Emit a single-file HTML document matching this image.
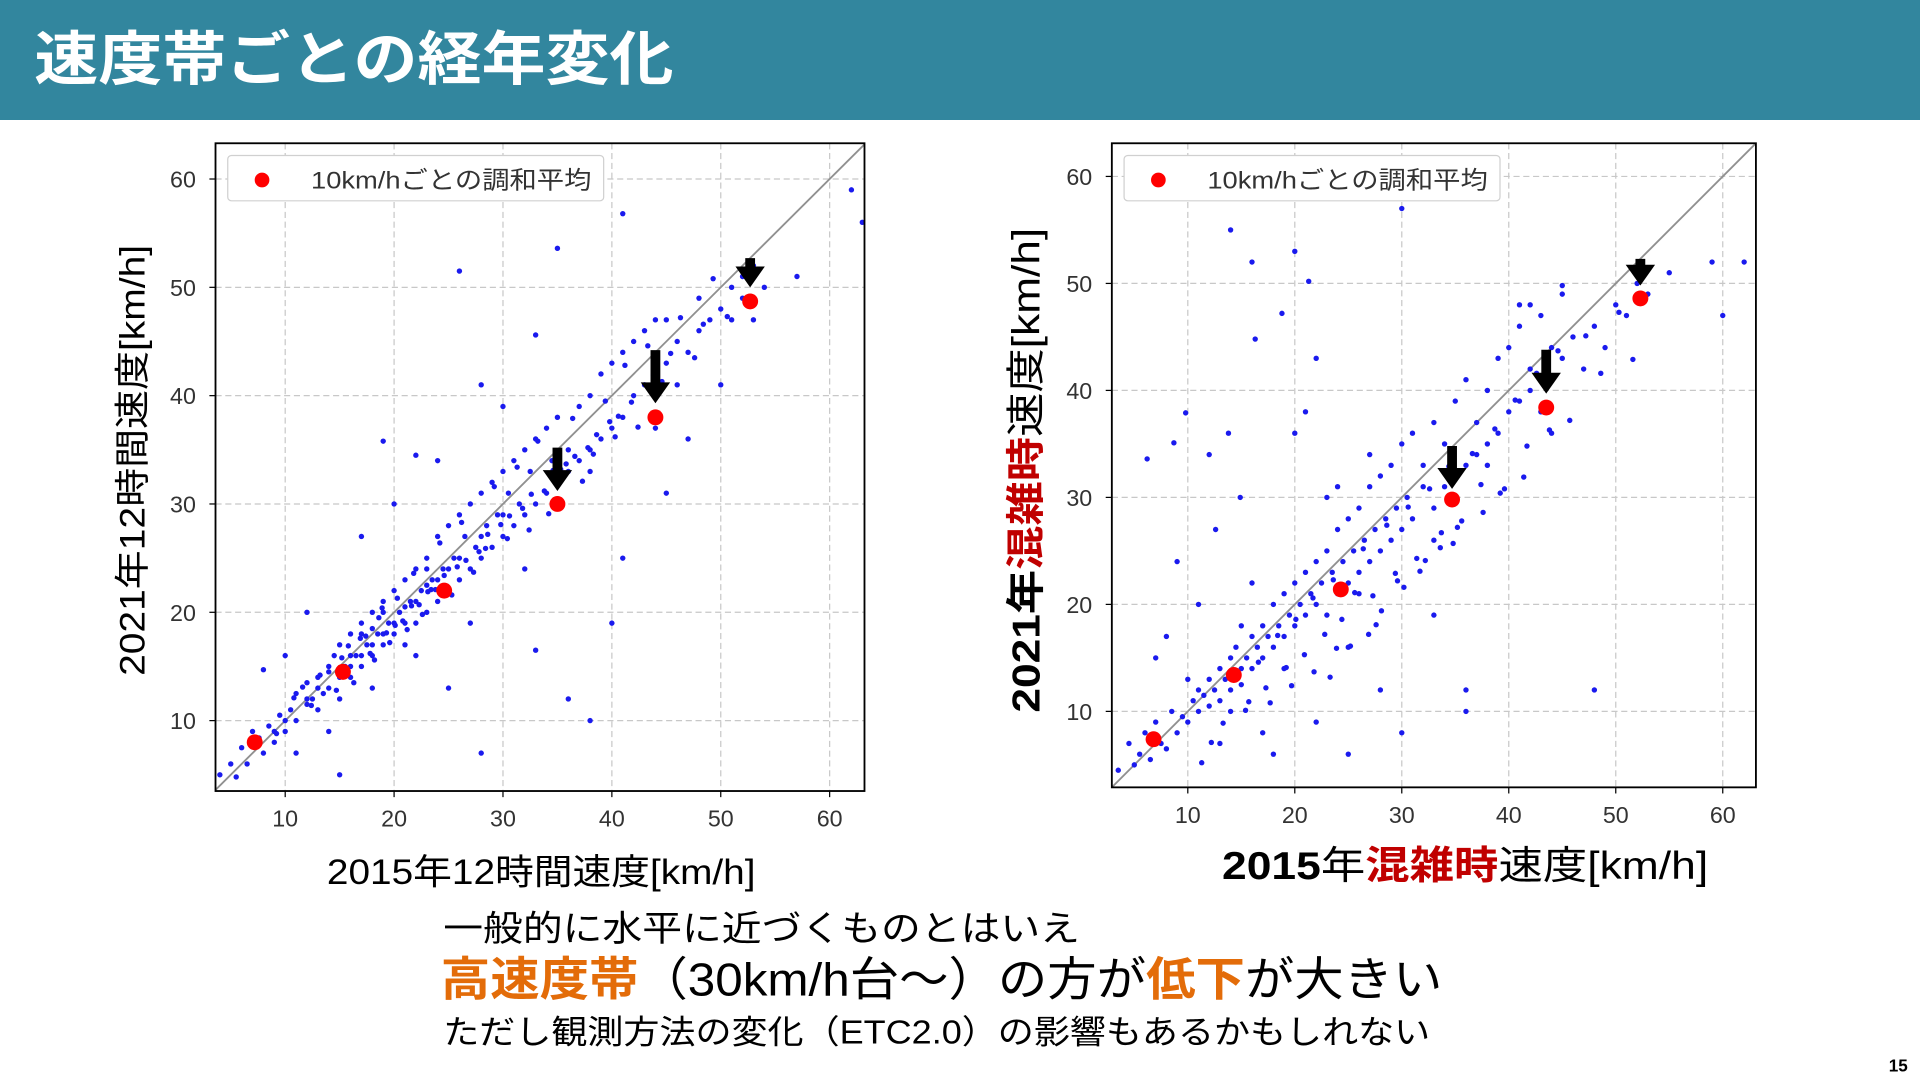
<!DOCTYPE html>
<html><head><meta charset="utf-8"><style>
html,body{margin:0;padding:0;background:#fff;}
svg{display:block;}
text{font-family:"Liberation Sans","Noto Sans CJK JP",sans-serif;}
</style></head><body>
<svg id="root" width="1920" height="1080" viewBox="0 0 1568 882" xmlns="http://www.w3.org/2000/svg">
<rect x="0" y="0" width="1568" height="98" fill="#32869e"/>
<text x="28" y="65" font-size="48" font-weight="bold" fill="#fff" textLength="522" lengthAdjust="spacingAndGlyphs">速度帯ごとの経年変化</text>
<g id="chartL"></g>
<g id="chartR"></g>
<text x="267" y="722" font-size="29" textLength="350" lengthAdjust="spacingAndGlyphs" fill="#000">2015年12時間速度[km/h]</text>
<text transform="translate(118,552) rotate(-90)" font-size="29" textLength="352" lengthAdjust="spacingAndGlyphs" fill="#000">2021年12時間速度[km/h]</text>
<text x="998" y="718" font-size="32" textLength="397" lengthAdjust="spacingAndGlyphs" fill="#000"><tspan font-weight="bold">2015</tspan>年<tspan font-weight="bold" fill="#c00000">混雑時</tspan>速度[km/h]</text>
<text transform="translate(849,582) rotate(-90)" font-size="32" textLength="396" lengthAdjust="spacingAndGlyphs" fill="#000"><tspan font-weight="bold">2021年</tspan><tspan font-weight="bold" fill="#c00000">混雑時</tspan>速度[km/h]</text>
<text x="362" y="768" font-size="29" textLength="520" lengthAdjust="spacingAndGlyphs" fill="#000">一般的に水平に近づくものとはいえ</text>
<text x="360" y="813" font-size="38" textLength="818" lengthAdjust="spacingAndGlyphs" fill="#000"><tspan font-weight="bold" fill="#e36c09">高速度帯</tspan>（30km/h台～）の方が<tspan font-weight="bold" fill="#e36c09">低下</tspan>が大きい</text>
<text x="362" y="852" font-size="27" textLength="806" lengthAdjust="spacingAndGlyphs" fill="#000">ただし観測方法の変化（ETC2.0）の影響もあるかもしれない</text>
<text x="1558" y="875" font-size="14" font-weight="bold" text-anchor="end" fill="#000">15</text>
</svg>
<script>
const NS="http://www.w3.org/2000/svg";
const tickValues=[10,20,30,40,50,60];
const legendLabel="10km/hごとの調和平均";
const leftX=[4,5,5.5,6,6.5,7,8,8.5,9,9.5,10,10.5,11,11,12,12,12.5,13,13,13.5,14,14,14.5,15,15,15.5,16,16,16.5,17,17,17.5,18,18,18.5,19,19,19.5,20,20,20.5,21,21,21.5,22,22,22.5,23,23,23.5,24,24,24.5,25,25,25.5,26,26,26.5,27,27,27.5,28,28,28.5,29,29,29.5,30,30,30.5,31,31,31.5,32,32,32.5,33,33,34,34,34.5,35,35,36,36,37,37,38,38,39,39,40,40,41,41,42,42,43,43,44,44,45,45,46,46,47,48,48,49,50,51,51,52,52,53,53,54,57,62,63,26,35,41,33,28,19,22,8,15,28,38,36,40,33,24,30,45,47,50,41,25,12,10,17,20,44,38,32,27,22,18,14,11,15,16,17,18,19,20,21,22,23,24,13,14,17,19,21,23,25,26,28,30,12,10,9,16,18,
13.2,14.7,15.8,16.3,17.4,18.2,18.9,19.6,20.3,21.2,21.8,22.6,23.4,24.2,25.3,26.2,27.3,28.4,29.2,30.4,31.3,32.4,33.2,34.2,35.3,36.4,37.3,38.3,39.4,40.3,41.2,42.4,43.3,44.6,45.4,46.3,47.6,48.4,49.3,50.6,17.8,19.3,20.8,22.3,23.8,25.8,27.8,29.8,31.8,33.8,35.8,37.8,39.8,41.8,43.8,15.2,16.9,18.6,20.1,21.6,23.1,24.6,26.6,28.6,30.6,32.6,34.6,36.6,38.6,40.6,7.6,9.2,10.8,12.4,11.6];
const leftY=[5,6,4.8,7.5,6,9,7,9.5,8,10.5,9,11,12.5,10,11.5,13.5,12,14,11,12.5,15,13,16,12,17,15,14,18,16,15,19,17,16,20,18,17,21,19,18,22,20,17,23,21,19,24,22,20,25,23,21,27,24,22,28,25,23,29,27,24,30,26,25,31,28,26,32,29,27,33,31,28,34,30,29,35,33,30,36,31,37,34,32,38,33,35,34,39,35,40,36,42,37,43,38,44,40,45,41,46,42,37,43,47,41,45,44,46,49,47,48,47,50,49,51,47,52,50,51,59,56,51.5,53.6,56.8,45.6,41,35.8,34.5,14.7,5,7,10,12,19,16.5,34,39,31,36,41,25,13,20,16,27,30,47,33,24,19,16,13,9,7,14,16,18,18.5,18,19,20.5,21,22.5,23,13,14.5,16,20,19,24,24,25,27,29,12,10,9,15,17,
14.2,12.8,16.9,13.5,17.8,15.6,20.4,17.2,21.3,18.4,23.6,19.8,22.1,26.4,21.6,28.3,23.7,25.9,31.6,26.8,33.4,27.6,35.8,29.1,33.2,37.9,32.1,34.6,39.5,36.2,42.8,37.1,44.6,41.3,43.9,47.2,43.5,46.6,50.8,47.3,16.2,18.1,19.2,20.7,22.1,24.2,25.6,28.1,29.6,31.2,33.7,35.2,37.6,39.4,41.9,15.8,17.6,19.5,18.8,20.6,21.9,23.4,24.8,27.2,28.9,30.9,33.1,34.4,36.4,38.1,8.4,8.8,12.1,11.4,13.1];
const leftMeanX=[7.2,15.3,24.6,35,44,52.7];
const leftMeanY=[8,14.5,22,30,38,48.7];
const leftArrowTop=[35.2,44.2,52.7];
const leftArrowBottom=[31.2,39.3,50];
const leftArrowX=[35,44,52.7];
const rightX=[3.5,4.5,5,5.5,6,6.5,7,7.5,8,8.5,9,9.5,10,10.5,11,11,11.5,12,12,12.5,13,13,13.5,14,14,14.5,15,15,15.5,16,16,16.5,17,17,17.5,18,18,18.5,19,19,19.5,20,20,20.5,21,21,21.5,22,22,22.5,23,23,23.5,24,24,24.5,25,25,25.5,26,26,26.5,27,27,27.5,28,28,28.5,29,29,29.5,30,30,30.5,31,31,32,32,33,33,34,34,35,35,36,36,37,37,38,38,39,39,40,40,41,41,42,42,43,43,44,44,45,45,46,47,48,49,50,51,52,53,55,59,60,62,20,42,41,45,30,14,16,25,44,48,38,36,30,20,12,22,27,33,9,15,18,21,24,26,28,13,17,19,23,11,10,8,7,16,14,22,25,33,36,
12.6,13.8,14.9,15.7,16.6,17.3,18.4,19.2,20.1,20.9,21.7,22.8,23.6,24.4,25.6,26.4,27.3,28.6,29.4,30.6,31.4,32.6,33.7,34.4,35.6,36.6,37.4,38.7,39.6,40.6,41.7,42.6,43.8,44.6,45.7,47.2,48.6,50.3,51.6,16.3,18.8,21.3,23.3,25.2,27.6,29.6,31.7,33.6,35.2,37.6,39.2,41.4,6.2,8.7,9.8,11.3,12.2,13.3,15.4,17.7,19.7,21.8,23.9,26.9,28.1,30.2,32.2,34.8];
const rightY=[4.5,7,5,6,8,5.5,9,7,6.5,10,8,9.5,9,11,12,10,11.5,13,10.5,12,14,11,13,15,12,16,14,12.5,15,17,14,16,15,18,17,16,20,18,17,21,19,18,22,20,19,23,21,20,24,22,19,25,23,21,27,24,22,28,25,23,29,26,24,31,27,25,32,28,26,33,29,27,35,30,28,36,31,33,29,37,31,35,32,39,33,41,34,37,35,40,36,43,38,44,39,46,40,42,38,47,41,44,43,49,45,42,46,44,48,47,50,49,51,52,47,52,53,48,48,49.8,57,55,52,16,36,12,33,10,8,36,34,43,34,26,24,18,6,38,31,21,12,7,8,14,30,20,13,17,15,22,10,9,6,19,12,27,36,30,
10.9,14.6,12.2,17.1,14.1,18.6,15.3,20.6,17.2,22.3,18.6,21.1,25.2,20.8,27.4,22.9,29.1,24.3,30.8,26.7,32.9,27.8,34.1,31.2,36.4,30.8,39.1,34.8,41.6,36.3,43.7,37.2,45.1,41.6,47.3,42.9,44.8,47.2,50.2,13.2,16.1,18.1,22.2,23.1,25.3,27.2,28.6,30.4,31.9,33.6,35.1,37.9,5.2,7.1,8.9,10.1,10.8,12.4,13.7,15.9,17.2,19.4,21.6,24.1,25.7,27.3,29.4,31.6];
const rightMeanX=[6.8,14.3,24.3,34.7,43.5,52.3];
const rightMeanY=[7.4,13.4,21.4,29.8,38.4,48.6];
const rightArrowTop=[34.8,43.8,52.3];
const rightArrowBottom=[30.8,39.7,49.8];
const rightArrowX=[34.7,43.5,52.3];

function mk(tag,attrs,parent){const e=document.createElementNS(NS,tag);for(const k in attrs)e.setAttribute(k,attrs[k]);parent.appendChild(e);return e;}

function drawChart(g,box,dom,px,py,mx,my,ax,aTop,aBot){
  const sx=v=>box.x0+(v-dom.xmin)/(dom.xmax-dom.xmin)*(box.x1-box.x0);
  const sy=v=>box.y1-(v-dom.ymin)/(dom.ymax-dom.ymin)*(box.y1-box.y0);
  const bg=mk('rect',{x:box.x0,y:box.y0,width:box.x1-box.x0,height:box.y1-box.y0,fill:'#fff'},g);
  
  
  tickValues.forEach(t=>{
    const gx=mk('line',{x1:sx(t),x2:sx(t),y1:box.y0,y2:box.y1,stroke:'#c8c8c8','stroke-dasharray':'5,3','stroke-width':1},g);
    
    
    const gy=mk('line',{x1:box.x0,x2:box.x1,y1:sy(t),y2:sy(t),stroke:'#c8c8c8','stroke-dasharray':'5,3','stroke-width':1},g);
    
    
    mk('line',{x1:sx(t),x2:sx(t),y1:box.y1,y2:box.y1+5,stroke:'#000'},g);
    mk('line',{x1:box.x0-5,x2:box.x0,y1:sy(t),y2:sy(t),stroke:'#000'},g);
    const tx=mk('text',{x:sx(t),y:box.y1+29,'font-size':19,'text-anchor':'middle',fill:'#333'},g);
    tx.textContent=t;
    
    
    const ty=mk('text',{x:box.x0-16,y:sy(t)+7,'font-size':19,'text-anchor':'end',fill:'#333'},g);
    ty.textContent=t;
    
    
  });
  const clipId='c'+box.x0;
  const cp=mk('clipPath',{id:clipId},g);
  mk('rect',{x:box.x0,y:box.y0,width:box.x1-box.x0,height:box.y1-box.y0},cp);
  const inner=mk('g',{'clip-path':'url(#'+clipId+')'},g);
  const lo=Math.min(dom.xmin,dom.ymin),hi=Math.max(dom.xmax,dom.ymax);
  const diag=mk('line',{x1:sx(lo),y1:sy(lo),x2:sx(hi),y2:sy(hi),stroke:'#909090','stroke-width':1.5},inner);
  
  
  for(let i=0;i<px.length;i++){
    const c=mk('circle',{cx:sx(px[i]),cy:sy(py[i]),r:2.2,fill:'#1a1aee'},inner);
    
    
  }
  for(let i=0;i<mx.length;i++){
    const c=mk('circle',{cx:sx(mx[i]),cy:sy(my[i]),r:6.5,fill:'#ff0000'},inner);
    
    
  }
  for(let i=0;i<ax.length;i++){
    const x=sx(ax[i]),t=sy(aTop[i]),b=sy(aBot[i]);
    const a=mk('path',{d:`M${x-4},${t} L${x+4},${t} L${x+4},${b-17} L${x+12},${b-17} L${x},${b} L${x-12},${b-17} L${x-4},${b-17} Z`,fill:'#000'},inner);
    
    
  }
  const fr=mk('rect',{x:box.x0,y:box.y0,width:box.x1-box.x0,height:box.y1-box.y0,fill:'none',stroke:'#000','stroke-width':1.5},g);
  
  
  const lg=mk('g',{},g);
  
  
  mk('rect',{x:box.x0+10,y:box.y0+10,width:307,height:37,rx:3,fill:'#fff',stroke:'#d0d0d0'},lg);
  const ld=mk('circle',{cx:box.x0+38,cy:box.y0+30,r:6,fill:'#ff0000'},lg);
  
  
  const lt=mk('text',{x:box.x0+78,y:box.y0+37,'font-size':20,fill:'#333',textLength:229,lengthAdjust:'spacingAndGlyphs'},lg);
  lt.textContent=legendLabel;
  
  
}
drawChart(document.getElementById('chartL'),{x0:176,x1:706,y0:117,y1:646},{xmin:3.6,xmax:63.2,ymin:3.5,ymax:63.3},leftX,leftY,leftMeanX,leftMeanY,leftArrowX,leftArrowTop,leftArrowBottom);
drawChart(document.getElementById('chartR'),{x0:908,x1:1434,y0:117,y1:643},{xmin:2.9,xmax:63.1,ymin:2.9,ymax:63.1},rightX,rightY,rightMeanX,rightMeanY,rightArrowX,rightArrowTop,rightArrowBottom);
</script>
</body></html>
